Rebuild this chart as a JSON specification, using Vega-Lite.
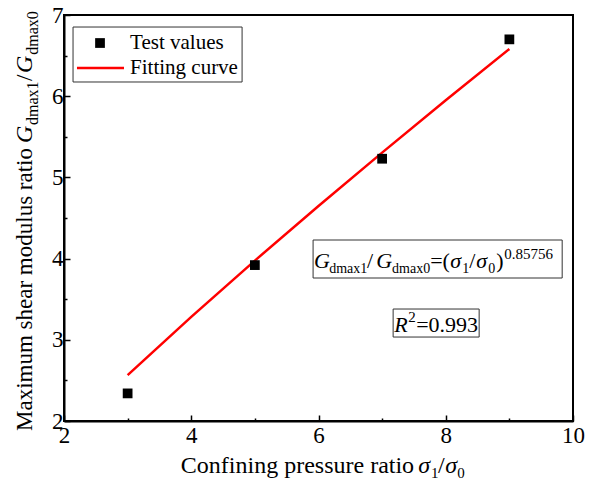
{
  "$schema": "https://vega.github.io/schema/vega-lite/v6.json",
  "width": 509,
  "height": 406,
  "autosize": {"type": "none"},
  "padding": {"left": 64, "top": 15, "right": 20, "bottom": 76},
  "background": "white",
  "config": {
    "view": {"stroke": "black", "strokeWidth": 2},
    "font": "Liberation Serif",
    "axis": {
      "grid": false,
      "title": null,
      "domainColor": "black",
      "domainWidth": 2,
      "tickColor": "black",
      "tickWidth": 1.5,
      "labelColor": "black",
      "labelFont": "Liberation Serif",
      "labelFontSize": 23,
      "labelFlush": false,
      "labelOverlap": false
    },
    "text": {"font": "Liberation Serif", "color": "black"}
  },
  "datasets": {
    "tests": [
      {"ratio": 3, "gmax": 2.34},
      {"ratio": 5, "gmax": 3.92},
      {"ratio": 7, "gmax": 5.23},
      {"ratio": 9, "gmax": 6.70}
    ],
    "fit": [
      {"ratio": 3, "gmax": 2.5654},
      {"ratio": 4, "gmax": 3.2832},
      {"ratio": 5, "gmax": 3.9757},
      {"ratio": 6, "gmax": 4.6485},
      {"ratio": 7, "gmax": 5.3054},
      {"ratio": 8, "gmax": 5.9491},
      {"ratio": 9, "gmax": 6.5814}
    ],
    "boxes": [
      {"name": "legend", "x": 2.142, "x2": 4.799, "y": 6.175, "y2": 6.852},
      {"name": "equation", "x": 5.915, "x2": 9.83, "y": 3.761, "y2": 4.229},
      {"name": "r2", "x": 7.173, "x2": 8.525, "y": 3.034, "y2": 3.379}
    ],
    "legendItems": [
      {"x": 3.038, "y": 6.655, "label": "Test values"},
      {"x": 3.038, "y": 6.347, "label": "Fitting curve"}
    ],
    "plainPieces": [
      {"x": 6.764, "y": 3.884, "label": "/"},
      {"x": 7.755, "y": 3.884, "label": "=("},
      {"x": 8.368, "y": 3.884, "label": "/"},
      {"x": 8.792, "y": 3.884, "label": ")"},
      {"x": 7.535, "y": 3.096, "label": "=0.993"}
    ],
    "italicPieces": [
      {"x": 5.931, "y": 3.884, "label": "G"},
      {"x": 6.906, "y": 3.884, "label": "G"},
      {"x": 8.069, "y": 3.884, "label": "σ"},
      {"x": 8.478, "y": 3.884, "label": "σ"},
      {"x": 7.189, "y": 3.096, "label": "R"}
    ],
    "subPieces": [
      {"x": 6.167, "y": 3.823, "label": "dmax1"},
      {"x": 7.157, "y": 3.823, "label": "dmax0"},
      {"x": 8.258, "y": 3.823, "label": "1"},
      {"x": 8.667, "y": 3.823, "label": "0"}
    ],
    "supPieces": [
      {"x": 8.918, "y": 3.995, "label": "0.85756"},
      {"x": 7.409, "y": 3.219, "label": "2"}
    ],
    "xTitleSubs": [
      {"x": 7.77, "y": 1.298, "label": "1"},
      {"x": 8.179, "y": 1.298, "label": "0"}
    ],
    "xTitleSigmas": [
      {"x": 7.566, "y": 1.36, "label": "σ"},
      {"x": 7.991, "y": 1.36, "label": "σ"}
    ]
  },
  "encoding": {
    "x": {
      "field": "x",
      "type": "quantitative",
      "scale": {"domain": [2, 10], "nice": false, "zero": false},
      "axis": {
        "values": [2, 3, 4, 5, 6, 7, 8, 9, 10],
        "labelExpr": "datum.value % 2 === 0 ? format(datum.value, 'd') : ''",
        "tickSize": {"condition": {"test": "datum.value % 2 !== 0", "value": -3}, "value": -6},
        "labelPadding": 9
      }
    },
    "y": {
      "field": "y",
      "type": "quantitative",
      "scale": {"domain": [2, 7], "nice": false, "zero": false},
      "axis": {
        "values": [2, 2.5, 3, 3.5, 4, 4.5, 5, 5.5, 6, 6.5, 7],
        "labelExpr": "datum.value % 1 === 0 ? format(datum.value, 'd') : ''",
        "tickSize": {"condition": {"test": "datum.value % 1 !== 0", "value": -3}, "value": -6},
        "labelPadding": 7
      }
    }
  },
  "layer": [
    {
      "data": {"name": "boxes"},
      "mark": {"type": "rect", "fill": "white", "stroke": "#333333", "strokeWidth": 1},
      "encoding": {"x2": {"field": "x2"}, "y2": {"field": "y2"}}
    },
    {
      "data": {"name": "fit"},
      "mark": {"type": "line", "color": "#ff0000", "strokeWidth": 2.5},
      "encoding": {"x": {"field": "ratio"}, "y": {"field": "gmax"}}
    },
    {
      "data": {"name": "tests"},
      "mark": {"type": "point", "shape": "square", "filled": true, "color": "black", "size": 95, "opacity": 1},
      "encoding": {"x": {"field": "ratio"}, "y": {"field": "gmax"}}
    },
    {
      "data": {"values": [{"x": 2.566, "y": 6.655}]},
      "mark": {"type": "point", "shape": "square", "filled": true, "color": "black", "size": 95, "opacity": 1}
    },
    {
      "data": {"values": [{"x": 2.204, "x2": 2.943, "y": 6.347}]},
      "mark": {"type": "rule", "color": "#ff0000", "strokeWidth": 2.5},
      "encoding": {"x2": {"field": "x2"}}
    },
    {
      "data": {"name": "legendItems"},
      "mark": {"type": "text", "font": "Liberation Serif", "align": "left", "baseline": "middle", "fontSize": 21},
      "encoding": {"text": {"field": "label"}}
    },
    {
      "data": {"values": [{"x": 7.503, "y": 1.36, "label": "Confining pressure ratio"}]},
      "mark": {"type": "text", "font": "Liberation Serif", "align": "right", "baseline": "alphabetic", "fontSize": 24},
      "encoding": {"text": {"field": "label"}}
    },
    {
      "data": {"name": "xTitleSigmas"},
      "mark": {"type": "text", "font": "Liberation Serif", "align": "left", "baseline": "alphabetic", "fontSize": 24, "fontStyle": "italic"},
      "encoding": {"text": {"field": "label"}}
    },
    {
      "data": {"values": [{"x": 7.88, "y": 1.36, "label": "/"}]},
      "mark": {"type": "text", "font": "Liberation Serif", "align": "left", "baseline": "alphabetic", "fontSize": 24},
      "encoding": {"text": {"field": "label"}}
    },
    {
      "data": {"name": "xTitleSubs"},
      "mark": {"type": "text", "font": "Liberation Serif", "align": "left", "baseline": "alphabetic", "fontSize": 15},
      "encoding": {"text": {"field": "label"}}
    },
    {
      "data": {"values": [{"x": 1.497, "y": 5.362, "label": "Maximum shear modulus ratio"}]},
      "mark": {"type": "text", "font": "Liberation Serif", "angle": 270, "align": "right", "baseline": "alphabetic", "fontSize": 23},
      "encoding": {"text": {"field": "label"}}
    },
    {
      "data": {"values": [{"x": 1.497, "y": 6.187, "label": "/"}]},
      "mark": {"type": "text", "font": "Liberation Serif", "angle": 270, "align": "left", "baseline": "alphabetic", "fontSize": 23},
      "encoding": {"text": {"field": "label"}}
    },
    {
      "data": {"values": [{"x": 1.497, "y": 5.424, "label": "G"}, {"x": 1.497, "y": 6.285, "label": "G"}]},
      "mark": {"type": "text", "font": "Liberation Serif", "angle": 270, "align": "left", "baseline": "alphabetic", "fontSize": 24, "fontStyle": "italic"},
      "encoding": {"text": {"field": "label"}}
    },
    {
      "data": {"values": [{"x": 1.591, "y": 5.645, "label": "dmax1"}, {"x": 1.591, "y": 6.51, "label": "dmax0"}]},
      "mark": {"type": "text", "font": "Liberation Serif", "angle": 270, "align": "left", "baseline": "alphabetic", "fontSize": 16},
      "encoding": {"text": {"field": "label"}}
    },
    {
      "data": {"name": "plainPieces"},
      "mark": {"type": "text", "font": "Liberation Serif", "align": "left", "baseline": "alphabetic", "fontSize": 22},
      "encoding": {"text": {"field": "label"}}
    },
    {
      "data": {"name": "italicPieces"},
      "mark": {"type": "text", "font": "Liberation Serif", "align": "left", "baseline": "alphabetic", "fontSize": 22, "fontStyle": "italic"},
      "encoding": {"text": {"field": "label"}}
    },
    {
      "data": {"name": "subPieces"},
      "mark": {"type": "text", "font": "Liberation Serif", "align": "left", "baseline": "alphabetic", "fontSize": 14},
      "encoding": {"text": {"field": "label"}}
    },
    {
      "data": {"name": "supPieces"},
      "mark": {"type": "text", "font": "Liberation Serif", "align": "left", "baseline": "alphabetic", "fontSize": 15},
      "encoding": {"text": {"field": "label"}}
    }
  ]
}
